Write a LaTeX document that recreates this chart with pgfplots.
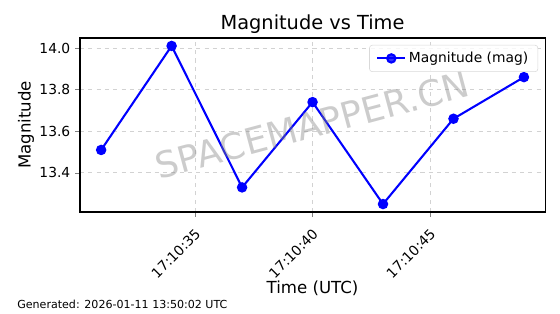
\documentclass[border=0pt]{standalone}
\usepackage{pgfplots}
\pgfplotsset{compat=1.18}
\usepackage{fontspec}
\setmainfont{DejaVu Sans}
\begin{document}
\begin{tikzpicture}
\path[use as bounding box] (0,0) rectangle (404.7pt,226.9pt);
\begin{axis}[
  at={(57.82pt,73.72pt)}, anchor=south west,
  scale only axis, width=336.1pt, height=125.7pt,
  xmin=30.1, xmax=49.9, ymin=13.212, ymax=14.048,
  xtick={35,40,45}, xticklabels={17:10:35,17:10:40,17:10:45},
  ytick={13.4,13.6,13.8,14.0},
  /pgf/number format/fixed, /pgf/number format/fixed zerofill, /pgf/number format/precision=1,
  /pgf/number format/assume math mode=true,
  xticklabel style={rotate=45, anchor=north east, font=\fontsize{10}{12}\selectfont, inner sep=1pt, xshift=-5pt, yshift=-4pt},
  yticklabel style={font=\fontsize{10}{12}\selectfont},
  tick align=outside, major tick length=3.5pt,
  xtick pos=bottom, ytick pos=left,
  grid=major, grid style={dashed, gray!35, line width=0.6pt},
  axis line style={line width=0.8pt},
  title={Magnitude vs Time}, title style={font=\fontsize{14}{16}\selectfont, yshift=-6.5pt},
  xlabel={Time (UTC)}, ylabel={Magnitude},
  label style={font=\fontsize{12}{14}\selectfont},
  xlabel style={at={(axis description cs:0.5,0)}, anchor=center, yshift=-54.9pt},
  ylabel style={yshift=-3pt},
  legend style={at={(1,1)}, anchor=north east, xshift=-5pt, yshift=-5pt, font=\fontsize{10}{12}\selectfont, draw=gray!30, rounded corners=2pt, fill=white, fill opacity=0.8, text opacity=1, inner xsep=5pt, inner ysep=3pt},
  legend image code/.code={\draw[mark repeat=2,mark phase=2] plot coordinates {(0pt,0pt) (10pt,0pt) (20pt,0pt)};},
  legend cell align=left,
]
\addplot[blue, line width=1.5pt, mark=*, mark size=3pt] coordinates {
(31,13.51) (34,14.01) (37,13.33) (40,13.74) (43,13.25) (46,13.66) (49,13.86)
};
\addlegendentry{Magnitude (mag)}
\node[rotate=15, text=gray, opacity=0.4, font=\fontsize{26}{30}\selectfont] at (rel axis cs:0.5,0.5) {SPACEMAPPER.CN};
\end{axis}
\node[anchor=base west, font=\fontsize{8}{10}\selectfont, inner sep=0] at (12.3pt,4pt) {Generated: 2026-01-11 13:50:02 UTC};
\end{tikzpicture}
\end{document}
